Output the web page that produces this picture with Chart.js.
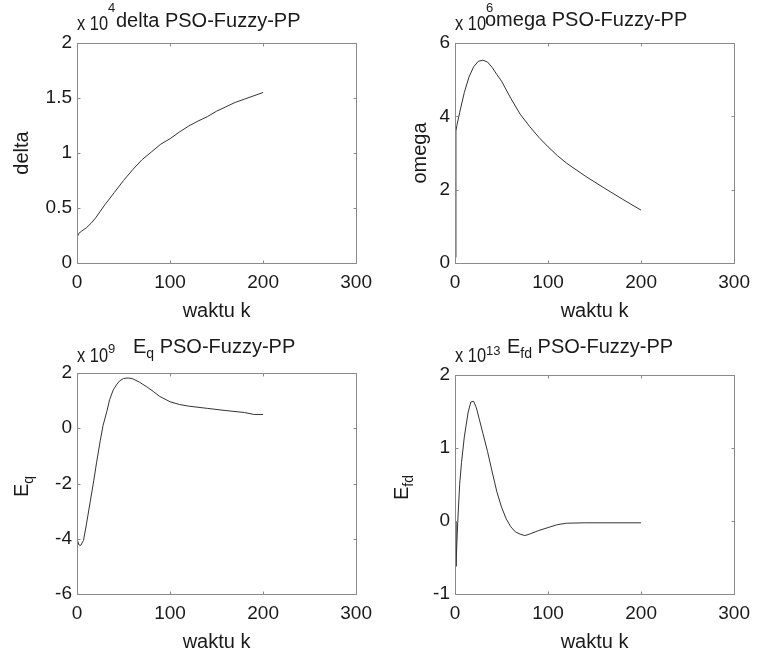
<!DOCTYPE html>
<html>
<head>
<meta charset="utf-8">
<script src="https://cdn.jsdelivr.net/npm/chart.js@4.4.1/dist/chart.umd.min.js"></script>
<style>
  body { margin: 0; background: #fff; }
  #wrap { position: relative; width: 758px; height: 652px; overflow: hidden; }
  .cell { position: absolute; width: 380px; height: 326px; }
</style>
</head>
<body>
<div id="wrap">
  <div class="cell" style="left:0;top:0"><canvas id="c1" width="380" height="326"></canvas></div>
  <div class="cell" style="left:378px;top:0"><canvas id="c2" width="380" height="326"></canvas></div>
  <div class="cell" style="left:0;top:326px"><canvas id="c3" width="380" height="326"></canvas></div>
  <div class="cell" style="left:378px;top:326px"><canvas id="c4" width="380" height="326"></canvas></div>
</div>
<script>
// waktu k (x) and values, in axis units (see x 10^n)
const deltaK   = [0, 0.5, 2, 5, 10, 15, 20, 25, 30, 40, 50, 60, 70, 80, 90, 100, 110, 120, 130, 140, 150, 160, 170, 180, 190, 200];
const deltaVal = [0.06, 0.24, 0.27, 0.29, 0.32, 0.36, 0.41, 0.47, 0.53, 0.64, 0.75, 0.85, 0.94, 1.01, 1.08, 1.13, 1.19, 1.245, 1.29, 1.33, 1.38, 1.42, 1.46, 1.49, 1.52, 1.55];

const omegaK   = [0, 1, 2, 5, 10, 15, 20, 25, 30, 35, 40, 45, 50, 60, 70, 80, 90, 100, 110, 120, 140, 160, 180, 200];
const omegaVal = [0.15, 3.6, 3.75, 4.1, 4.65, 5.07, 5.35, 5.5, 5.53, 5.48, 5.33, 5.14, 4.96, 4.49, 4.06, 3.73, 3.43, 3.17, 2.93, 2.72, 2.37, 2.05, 1.74, 1.44];

const eqK   = [0, 0.5, 2, 4, 7, 10, 14, 18, 21, 25, 28, 32, 35, 39, 43, 46, 50, 55, 60, 67, 75, 82, 89, 100, 110, 120, 140, 160, 180, 190, 200];
const eqVal = [-0.6, -4.05, -4.22, -4.24, -4.06, -3.5, -2.7, -1.9, -1.25, -0.45, 0.1, 0.6, 1.03, 1.39, 1.6, 1.72, 1.8, 1.82, 1.79, 1.67, 1.5, 1.33, 1.15, 0.96, 0.86, 0.8, 0.72, 0.64, 0.57, 0.5, 0.5];

const efdK   = [0, 1, 3, 5, 7, 10, 14, 17, 20, 23, 26, 30, 35, 40, 45, 50, 55, 60, 65, 70, 75, 80, 90, 100, 110, 120, 140, 160, 200];
const efdVal = [0, -0.62, 0.0, 0.5, 0.8, 1.15, 1.48, 1.63, 1.64, 1.55, 1.4, 1.2, 0.95, 0.67, 0.4, 0.19, 0.03, -0.08, -0.15, -0.18, -0.2, -0.18, -0.13, -0.09, -0.05, -0.03, -0.025, -0.025, -0.025];

const xMin = 0, xMax = 300, xStep = 100;
const xLabel = 'waktu k';

const FONT = '"Liberation Sans", Arial, sans-serif';
const INK = '#1a1a1a';

function drawRich(ctx, parts, x, y) {
  let cx = x;
  parts.forEach(p => {
    let size = 20, dy = 0;
    if (p.sub) { size = 14; dy = 5; }
    ctx.font = size + 'px ' + FONT;
    ctx.fillText(p.t, cx, y + dy);
    cx += ctx.measureText(p.t).width;
  });
  return cx - x;
}
function richWidth(ctx, parts) {
  let w = 0;
  parts.forEach(p => {
    ctx.font = (p.sub ? 14 : 20) + 'px ' + FONT;
    w += ctx.measureText(p.t).width;
  });
  return w;
}

const matlabFrame = {
  id: 'matlabFrame',
  afterDraw(chart, args, o) {
    const { ctx, chartArea: a, scales: { x, y } } = chart;
    ctx.save();
    ctx.strokeStyle = '#8a8a8a';
    ctx.lineWidth = 1;
    const L = Math.round(a.left) + 0.5, R = Math.round(a.right) + 0.5;
    const T = Math.round(a.top) + 0.5, B = Math.round(a.bottom) + 0.5;
    ctx.strokeRect(L, T, R - L, B - T);
    ctx.beginPath();
    x.ticks.forEach(t => {
      const px = Math.round(x.getPixelForValue(t.value)) + 0.5;
      ctx.moveTo(px, B); ctx.lineTo(px, B - 3);
      ctx.moveTo(px, T); ctx.lineTo(px, T + 3);
    });
    y.ticks.forEach(t => {
      const py = Math.round(y.getPixelForValue(t.value)) + 0.5;
      ctx.moveTo(L, py); ctx.lineTo(L + 3, py);
      ctx.moveTo(R, py); ctx.lineTo(R - 3, py);
    });
    ctx.stroke();

    ctx.fillStyle = INK;
    ctx.textBaseline = 'alphabetic';
    ctx.textAlign = 'left';
    // exponent "x 10^n" (narrow, as in the original)
    ctx.save();
    ctx.translate(a.left, o.expY);
    ctx.scale(0.82, 1);
    ctx.font = '20px ' + FONT;
    ctx.fillText('x 10', 0, 0);
    const w10 = ctx.measureText('x 10').width * 0.82;
    ctx.restore();
    ctx.font = '13px ' + FONT;
    ctx.fillText(o.exp, a.left + w10, o.supY);
    // title
    drawRich(ctx, o.title, a.left + o.titleDX, o.titleY);
    // x label
    ctx.font = '20px ' + FONT;
    ctx.textAlign = 'center';
    ctx.fillText(xLabel, (a.left + a.right) / 2, a.bottom + 54);
    // y label, rotated
    ctx.textAlign = 'left';
    const wl = richWidth(ctx, o.ylabel);
    ctx.translate(o.ylabelX, (a.top + a.bottom) / 2 + o.ylabelDY);
    ctx.rotate(-Math.PI / 2);
    drawRich(ctx, o.ylabel, -wl / 2, 0);
    ctx.restore();
  }
};

function makeChart(id, ks, vals, yMin, yMax, yStep, box, labels) {
  const W = 380, H = 326;
  return new Chart(document.getElementById(id), {
    type: 'line',
    data: {
      datasets: [{
        data: ks.map((k, i) => ({ x: k, y: vals[i] })),
        borderColor: '#333333',
        borderWidth: 1,
        pointRadius: 0,
        tension: 0,
        fill: false
      }]
    },
    options: {
      responsive: false,
      animation: false,
      devicePixelRatio: 1,
      layout: { padding: { left: 0, top: box.t, right: W - box.r, bottom: 0 } },
      plugins: {
        legend: { display: false },
        tooltip: { enabled: false },
        title: { display: false },
        matlabFrame: labels
      },
      scales: {
        x: {
          type: 'linear',
          min: xMin, max: xMax,
          grid: { display: false, drawTicks: false },
          border: { display: false },
          ticks: { stepSize: xStep, padding: 8, maxRotation: 0, autoSkip: false,
                   color: INK, font: { family: FONT, size: 19 } },
          afterFit(s) { s.height = H - box.b; }
        },
        y: {
          min: yMin, max: yMax,
          grid: { display: false, drawTicks: false },
          border: { display: false },
          ticks: { stepSize: yStep, padding: 5, autoSkip: false,
                   color: INK, font: { family: FONT, size: 19 },
                   callback: v => String(Math.round(v * 100) / 100) },
          afterFit(s) { s.width = box.l; }
        }
      }
    },
    plugins: [matlabFrame]
  });
}

makeChart('c1', deltaK, deltaVal, 0, 2, 0.5, { l: 77, t: 43, r: 361, b: 263 }, {
  exp: '4', expY: 30, supY: 12, titleDX: 39, titleY: 27,
  title: [{ t: 'delta PSO-Fuzzy-PP' }],
  ylabel: [{ t: 'delta' }], ylabelX: 28, ylabelDY: 0
});
makeChart('c2', omegaK, omegaVal, 0, 6, 2, { l: 77, t: 43, r: 362, b: 263 }, {
  exp: '6', expY: 30, supY: 12, titleDX: 30, titleY: 26,
  title: [{ t: 'omega PSO-Fuzzy-PP' }],
  ylabel: [{ t: 'omega' }], ylabelX: 48, ylabelDY: 0
});
makeChart('c3', eqK, eqVal, -6, 2, 2, { l: 77, t: 47, r: 360, b: 268 }, {
  exp: '9', expY: 36, supY: 27, titleDX: 56, titleY: 27,
  title: [{ t: 'E' }, { t: 'q', sub: true }, { t: ' PSO-Fuzzy-PP' }],
  ylabel: [{ t: 'E' }, { t: 'q', sub: true }], ylabelX: 28, ylabelDY: 3
});
makeChart('c4', efdK, efdVal, -1, 2, 1, { l: 77, t: 49, r: 362, b: 268 }, {
  exp: '13', expY: 36, supY: 29, titleDX: 52, titleY: 27,
  title: [{ t: 'E' }, { t: 'fd', sub: true }, { t: ' PSO-Fuzzy-PP' }],
  ylabel: [{ t: 'E' }, { t: 'fd', sub: true }], ylabelX: 30, ylabelDY: 3
});
</script>
</body>
</html>
